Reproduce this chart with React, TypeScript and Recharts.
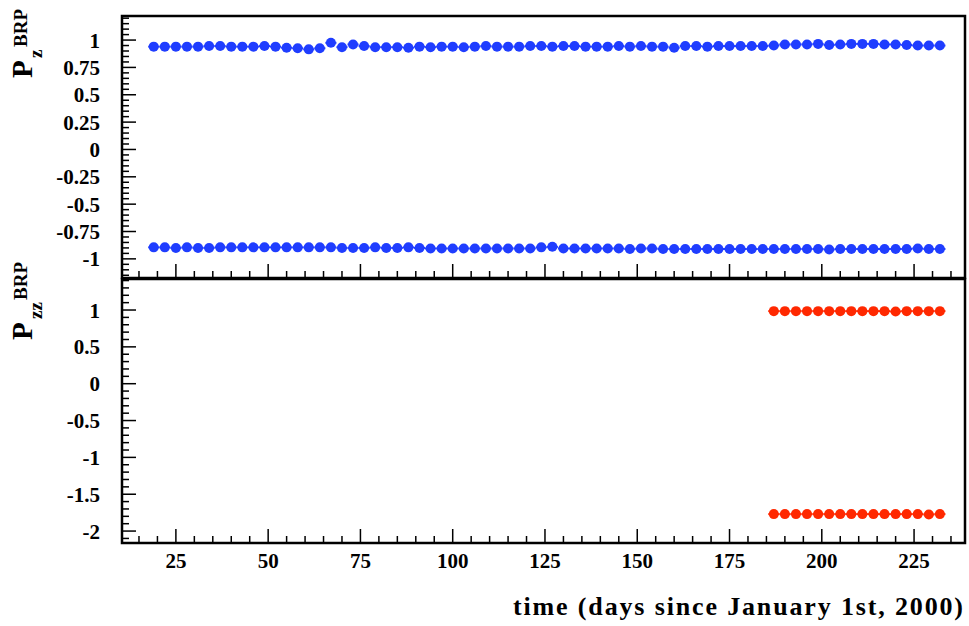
import React from 'react';
import { ScatterChart, Scatter, XAxis, YAxis, ReferenceArea, ErrorBar } from 'recharts';

// ---------- data ----------
const DAYS_Z = [
  19, 22, 25, 28, 31, 34, 37, 40, 43, 46, 49, 52, 55, 58, 61, 64, 67, 70, 73, 76,
  79, 82, 85, 88, 91, 94, 97, 100, 103, 106, 109, 112, 115, 118, 121, 124, 127, 130, 133, 136,
  139, 142, 145, 148, 151, 154, 157, 160, 163, 166, 169, 172, 175, 178, 181, 184, 187, 190, 193, 196,
  199, 202, 205, 208, 211, 214, 217, 220, 223, 226, 229, 232,
];
const PZ_POS = [
  0.94, 0.94, 0.94, 0.94, 0.94, 0.945, 0.945, 0.94, 0.94, 0.94, 0.945, 0.94, 0.93, 0.925, 0.915, 0.925, 0.975, 0.935, 0.96, 0.945,
  0.935, 0.935, 0.935, 0.93, 0.94, 0.935, 0.94, 0.94, 0.935, 0.94, 0.945, 0.94, 0.94, 0.94, 0.945, 0.945, 0.94, 0.945, 0.945, 0.94,
  0.94, 0.94, 0.945, 0.94, 0.945, 0.94, 0.94, 0.93, 0.945, 0.945, 0.94, 0.945, 0.945, 0.945, 0.945, 0.945, 0.95, 0.96, 0.96, 0.96,
  0.965, 0.955, 0.96, 0.965, 0.965, 0.965, 0.96, 0.96, 0.955, 0.95, 0.95, 0.95,
];
const PZ_NEG = [
  -0.895, -0.895, -0.9, -0.895, -0.9, -0.9, -0.895, -0.895, -0.895, -0.895, -0.895, -0.895, -0.895, -0.895, -0.895, -0.895, -0.895, -0.9, -0.9, -0.9,
  -0.895, -0.9, -0.9, -0.895, -0.9, -0.905, -0.905, -0.905, -0.905, -0.905, -0.905, -0.905, -0.905, -0.905, -0.905, -0.895, -0.89, -0.905, -0.905, -0.905,
  -0.905, -0.905, -0.905, -0.91, -0.905, -0.905, -0.91, -0.91, -0.91, -0.91, -0.91, -0.91, -0.91, -0.91, -0.91, -0.91, -0.91, -0.91, -0.91, -0.91,
  -0.91, -0.915, -0.91, -0.91, -0.91, -0.91, -0.91, -0.91, -0.91, -0.905, -0.91, -0.91,
];
const DAYS_ZZ = [187, 190, 193, 196, 199, 202, 205, 208, 211, 214, 217, 220, 223, 226, 229, 232];
const PZZ_POS = [0.985, 0.985, 0.985, 0.985, 0.985, 0.985, 0.985, 0.985, 0.985, 0.985, 0.985, 0.98, 0.985, 0.985, 0.985, 0.985];
const PZZ_NEG = [-1.77, -1.77, -1.77, -1.77, -1.77, -1.77, -1.77, -1.77, -1.77, -1.77, -1.77, -1.77, -1.77, -1.77, -1.775, -1.77];
const BIN_HALF_WIDTH = 1.5;

// ---------- axes ----------
const X_DOMAIN: [number, number] = [10.4, 238.8];
const X_MAJOR = [25, 50, 75, 100, 125, 150, 175, 200, 225];
const X_LABELS = ['25', '50', '75', '100', '125', '150', '175', '200', '225'];
const PZ_DOMAIN: [number, number] = [-1.175, 1.22];
const PZ_MAJOR = [1, 0.75, 0.5, 0.25, 0, -0.25, -0.5, -0.75, -1];
const PZ_LABELS = ['1', '0.75', '0.5', '0.25', '0', '-0.25', '-0.5', '-0.75', '-1'];
const PZZ_DOMAIN: [number, number] = [-2.162, 1.421];
const PZZ_MAJOR = [1, 0.5, 0, -0.5, -1, -1.5, -2];
const PZZ_LABELS = ['1', '0.5', '0', '-0.5', '-1', '-1.5', '-2'];

const BLUE = '#1f3dff';
const RED = '#ff2800';
const FONT = '"Liberation Serif", "Times New Roman", serif';

function stepTicks(lo: number, hi: number, step: number): number[] {
  const out: number[] = [];
  const start = Math.ceil(lo / step - 1e-9);
  const end = Math.floor(hi / step + 1e-9);
  for (let k = start; k <= end; k++) out.push(Math.round(k * step * 1000) / 1000);
  return out;
}

const findIdx = (arr: number[], v: number) => arr.findIndex((m) => Math.abs(m - v) < 1e-6);

const makeYTick = (major: number[], labels: string[]) => (props: any) => {
  const { x, y, payload } = props;
  const idx = findIdx(major, payload.value);
  const len = idx >= 0 ? 14 : 7;
  return (
    <g>
      <line x1={x} y1={y} x2={x + len} y2={y} stroke="#000" strokeWidth={1.5} />
      {idx >= 0 && (
        <text x={x - 22} y={y} dy="0.36em" textAnchor="end" fontFamily={FONT} fontWeight="bold" fontSize={21} fill="#000">
          {labels[idx]}
        </text>
      )}
    </g>
  );
};

const makeXTick = (showLabels: boolean) => (props: any) => {
  const { x, y, payload } = props;
  const idx = findIdx(X_MAJOR, payload.value);
  const len = idx >= 0 ? 14 : 7;
  return (
    <g>
      <line x1={x} y1={y} x2={x} y2={y - len} stroke="#000" strokeWidth={1.5} />
      {showLabels && idx >= 0 && (
        <text x={x} y={y + 25} textAnchor="middle" fontFamily={FONT} fontWeight="bold" fontSize={21} fill="#000">
          {X_LABELS[idx]}
        </text>
      )}
    </g>
  );
};

const dot = (color: string) => (props: any) => <circle cx={props.cx} cy={props.cy} r={5} fill={color} />;

const toPoints = (days: number[], vals: number[]) => days.map((d, i) => ({ x: d, y: vals[i], ex: BIN_HALF_WIDTH }));

export default function App() {
  const xTicks = stepTicks(15, 235, 5);
  const pzTicks = stepTicks(-1.15, 1.2, 0.05);
  const pzzTicks = stepTicks(-2.1, 1.4, 0.1);

  return (
    <div style={{ position: 'absolute', left: 0, top: 0, width: 969, height: 626, background: '#fff' }}>
      <div style={{ position: 'absolute', left: 0, top: 0 }}>
        <ScatterChart width={969} height={280} margin={{ top: 16, right: 4, bottom: 0, left: 62 }}>
          <XAxis type="number" dataKey="x" domain={X_DOMAIN} allowDataOverflow ticks={xTicks} interval={0}
            height={2} tickSize={0} tickMargin={0} tickLine={false} axisLine={false} tick={makeXTick(false)} />
          <YAxis type="number" dataKey="y" domain={PZ_DOMAIN} allowDataOverflow ticks={pzTicks} interval={0}
            width={60} tickSize={0} tickMargin={0} tickLine={false} axisLine={false} tick={makeYTick(PZ_MAJOR, PZ_LABELS)} />
          <ReferenceArea x1={X_DOMAIN[0]} x2={X_DOMAIN[1]} y1={PZ_DOMAIN[0]} y2={PZ_DOMAIN[1]} fill="none" stroke="#000" strokeWidth={2.5} ifOverflow="visible" />
          <Scatter data={toPoints(DAYS_Z, PZ_POS)} shape={dot(BLUE)} isAnimationActive={false}>
            <ErrorBar dataKey="ex" direction="x" width={0} stroke={BLUE} strokeWidth={2} />
          </Scatter>
          <Scatter data={toPoints(DAYS_Z, PZ_NEG)} shape={dot(BLUE)} isAnimationActive={false}>
            <ErrorBar dataKey="ex" direction="x" width={0} stroke={BLUE} strokeWidth={2} />
          </Scatter>
        </ScatterChart>
      </div>
      <div style={{ position: 'absolute', left: 0, top: 0 }}>
        <ScatterChart width={969} height={626} margin={{ top: 279, right: 4, bottom: 53, left: 62 }}>
          <XAxis type="number" dataKey="x" domain={X_DOMAIN} allowDataOverflow ticks={xTicks} interval={0}
            height={30} tickSize={0} tickMargin={0} tickLine={false} axisLine={false} tick={makeXTick(true)} />
          <YAxis type="number" dataKey="y" domain={PZZ_DOMAIN} allowDataOverflow ticks={pzzTicks} interval={0}
            width={60} tickSize={0} tickMargin={0} tickLine={false} axisLine={false} tick={makeYTick(PZZ_MAJOR, PZZ_LABELS)} />
          <ReferenceArea x1={X_DOMAIN[0]} x2={X_DOMAIN[1]} y1={PZZ_DOMAIN[0]} y2={PZZ_DOMAIN[1]} fill="none" stroke="#000" strokeWidth={2.5} ifOverflow="visible" />
          <Scatter data={toPoints(DAYS_ZZ, PZZ_POS)} shape={dot(RED)} isAnimationActive={false}>
            <ErrorBar dataKey="ex" direction="x" width={0} stroke={RED} strokeWidth={2} />
          </Scatter>
          <Scatter data={toPoints(DAYS_ZZ, PZZ_NEG)} shape={dot(RED)} isAnimationActive={false}>
            <ErrorBar dataKey="ex" direction="x" width={0} stroke={RED} strokeWidth={2} />
          </Scatter>
        </ScatterChart>
      </div>
      <svg width={969} height={626} style={{ position: 'absolute', left: 0, top: 0, pointerEvents: 'none' }}>
        <g fontFamily={FONT} fontWeight="bold" fill="#000">
          <text transform="translate(32,78) rotate(-90)">
            <tspan x={0} y={0} fontSize={29}>P</tspan>
            <tspan x={20} y={10} fontSize={19}>z</tspan>
            <tspan x={31} y={-5} fontSize={19}>BRP</tspan>
          </text>
          <text transform="translate(32,340) rotate(-90)">
            <tspan x={0} y={0} fontSize={29}>P</tspan>
            <tspan x={21} y={10} fontSize={19}>zz</tspan>
            <tspan x={40} y={-5} fontSize={19}>BRP</tspan>
          </text>
          <text x={513} y={615} fontSize={26} textLength={450}>time (days since January 1st, 2000)</text>
        </g>
      </svg>
    </div>
  );
}
